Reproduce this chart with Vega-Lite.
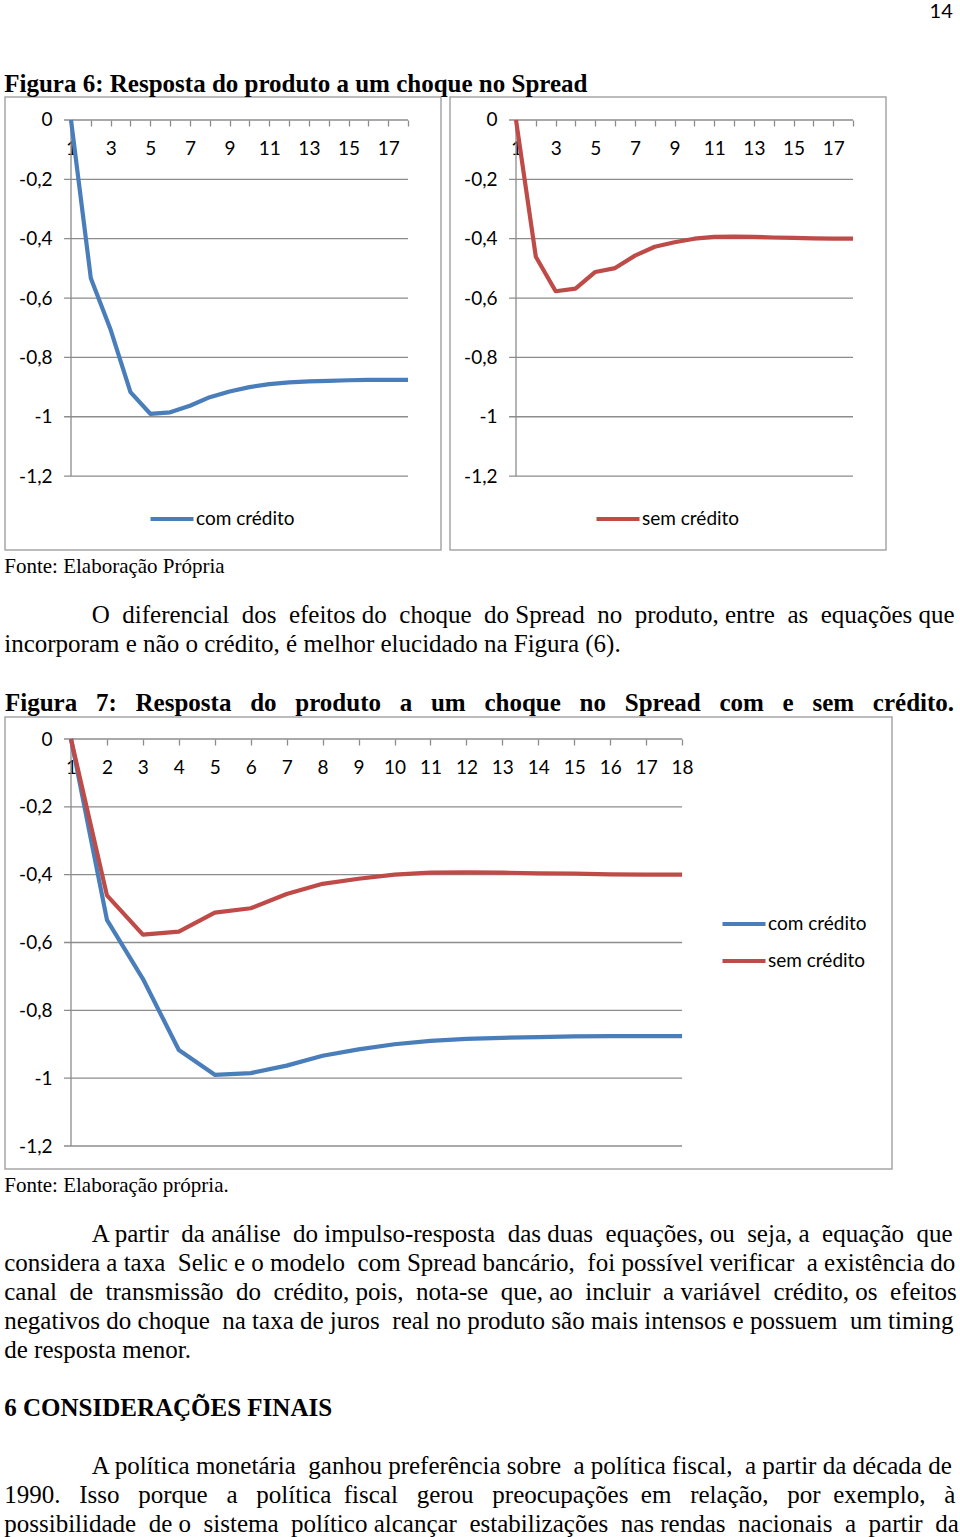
{
  "$schema": "https://vega.github.io/schema/vega-lite/v6.json",
  "padding": {"left": 4, "top": 2, "right": 3, "bottom": 0},
  "background": "white",
  "datasets": {
    "resp": [
      {"periodo": 1, "serie": "com crédito", "valor": 0},
      {"periodo": 2, "serie": "com crédito", "valor": -0.533},
      {"periodo": 3, "serie": "com crédito", "valor": -0.707},
      {"periodo": 4, "serie": "com crédito", "valor": -0.917},
      {"periodo": 5, "serie": "com crédito", "valor": -0.99},
      {"periodo": 6, "serie": "com crédito", "valor": -0.985},
      {"periodo": 7, "serie": "com crédito", "valor": -0.963},
      {"periodo": 8, "serie": "com crédito", "valor": -0.934},
      {"periodo": 9, "serie": "com crédito", "valor": -0.915},
      {"periodo": 10, "serie": "com crédito", "valor": -0.9},
      {"periodo": 11, "serie": "com crédito", "valor": -0.89},
      {"periodo": 12, "serie": "com crédito", "valor": -0.884},
      {"periodo": 13, "serie": "com crédito", "valor": -0.881},
      {"periodo": 14, "serie": "com crédito", "valor": -0.879},
      {"periodo": 15, "serie": "com crédito", "valor": -0.877},
      {"periodo": 16, "serie": "com crédito", "valor": -0.876},
      {"periodo": 17, "serie": "com crédito", "valor": -0.876},
      {"periodo": 18, "serie": "com crédito", "valor": -0.876},
      {"periodo": 1, "serie": "sem crédito", "valor": 0},
      {"periodo": 2, "serie": "sem crédito", "valor": -0.461},
      {"periodo": 3, "serie": "sem crédito", "valor": -0.577},
      {"periodo": 4, "serie": "sem crédito", "valor": -0.568},
      {"periodo": 5, "serie": "sem crédito", "valor": -0.512},
      {"periodo": 6, "serie": "sem crédito", "valor": -0.499},
      {"periodo": 7, "serie": "sem crédito", "valor": -0.457},
      {"periodo": 8, "serie": "sem crédito", "valor": -0.427},
      {"periodo": 9, "serie": "sem crédito", "valor": -0.412},
      {"periodo": 10, "serie": "sem crédito", "valor": -0.4},
      {"periodo": 11, "serie": "sem crédito", "valor": -0.394},
      {"periodo": 12, "serie": "sem crédito", "valor": -0.393},
      {"periodo": 13, "serie": "sem crédito", "valor": -0.394},
      {"periodo": 14, "serie": "sem crédito", "valor": -0.396},
      {"periodo": 15, "serie": "sem crédito", "valor": -0.397},
      {"periodo": 16, "serie": "sem crédito", "valor": -0.399},
      {"periodo": 17, "serie": "sem crédito", "valor": -0.4},
      {"periodo": 18, "serie": "sem crédito", "valor": -0.4}
    ],
    "grade": [{"v": 0}, {"v": -0.2}, {"v": -0.4}, {"v": -0.6}, {"v": -0.8}, {"v": -1}, {"v": -1.2}],
    "eixo": [{"x0": 1, "y0": 0, "y1": -1.2}]
  },
  "config": {
    "view": {"stroke": "#a6a6a6", "strokeWidth": 1.5},
    "title": {"color": "#000000", "anchor": "start"},
    "concat": {"spacing": 0}
  },
  "title": {"text": "14", "anchor": "end", "font": "Lato", "fontSize": 20, "fontWeight": "normal", "baseline": "top", "offset": 50, "dx": -6},
  "resolve": {"scale": {"color": "independent", "x": "independent", "y": "independent"}, "legend": {"color": "independent"}},
  "vconcat": [
    {
      "title": {
        "text": "6 CONSIDERAÇÕES FINAIS",
        "orient": "bottom",
        "anchor": "start",
        "font": "Liberation Serif",
        "fontSize": 25,
        "fontWeight": "bold",
        "offset": 33,
        "subtitle": [
          "\u200b\u00a0\u00a0\u00a0\u00a0\u00a0\u00a0\u00a0\u00a0\u00a0\u00a0\u00a0\u00a0\u00a0\u00a0A política monetária \u00a0ganhou preferência sobre \u00a0a política fiscal, \u00a0a partir da década de",
          "1990. \u00a0\u00a0Isso \u00a0\u00a0porque \u00a0\u00a0a \u00a0\u00a0política \u00a0fiscal \u00a0\u00a0gerou \u00a0\u00a0preocupações \u00a0em \u00a0\u00a0relação, \u00a0\u00a0por \u00a0exemplo, \u00a0\u00a0à",
          "possibilidade \u00a0de o \u00a0sistema \u00a0político alcançar \u00a0estabilizações \u00a0nas rendas \u00a0nacionais \u00a0a \u00a0partir \u00a0da"
        ],
        "subtitleFont": "Liberation Serif",
        "subtitleFontSize": 25,
        "subtitleColor": "#000000",
        "subtitleLineHeight": 29,
        "subtitlePadding": 33
      },
      "spacing": 33,
      "resolve": {"scale": {"color": "independent", "x": "independent", "y": "independent"}, "legend": {"color": "independent"}},
      "vconcat": [
        {
          "title": {
            "text": "Fonte: Elaboração Própria",
            "orient": "bottom",
            "anchor": "start",
            "font": "Liberation Serif",
            "fontSize": 21,
            "fontWeight": "normal",
            "offset": 5,
            "subtitle": [
              "\u200b\u00a0\u00a0\u00a0\u00a0\u00a0\u00a0\u00a0\u00a0\u00a0\u00a0\u00a0\u00a0\u00a0\u00a0O \u00a0diferencial \u00a0dos \u00a0efeitos do \u00a0choque \u00a0do Spread \u00a0no \u00a0produto, entre \u00a0as \u00a0equações que",
              "incorporam e não o crédito, é melhor elucidado na Figura (6)."
            ],
            "subtitleFont": "Liberation Serif",
            "subtitleFontSize": 25,
            "subtitleColor": "#000000",
            "subtitleLineHeight": 29,
            "subtitlePadding": 26
          },
          "resolve": {"scale": {"color": "independent", "x": "independent", "y": "independent"}, "legend": {"color": "independent"}},
          "vconcat": [
            {
              "title": {"text": "Figura 6: Resposta do produto a um choque no Spread", "font": "Liberation Serif", "fontSize": 25, "fontWeight": "bold", "offset": -1},
              "spacing": 7,
              "hconcat": [
                {
                  "width": 436,
                  "height": 453,
                  "layer": [
                    {
                      "data": {"name": "grade"},
                      "mark": {"type": "rule", "color": "#8c8c8c", "strokeWidth": 1.3},
                      "encoding": {
                        "y": {"field": "v", "type": "quantitative", "scale": {"domain": [-1.449, 0.0775], "nice": false, "zero": false},
                          "axis": {"orient": "left", "offset": -52, "values": [0, -0.2, -0.4, -0.6, -0.8, -1, -1.2], "domain": false, "ticks": false, "grid": false, "labelPadding": 5, "labelExpr": "datum.value == 0 ? '0' : replace('-' + format(-datum.value, '.1~f'), '.', ',')", "labelFont": "Lato", "labelFontSize": 19, "labelColor": "#000000", "labelFlush": false, "labelOverlap": false, "title": null}},
                        "x": {"datum": 0.65, "type": "quantitative", "scale": {"domain": [-2.33, 19.665], "nice": false, "zero": false},
                          "axis": {"orient": "bottom", "offset": -430, "values": [1,2,3,4,5,6,7,8,9,10,11,12,13,14,15,16,17,18], "domain": false, "grid": false, "tickColor": "#8c8c8c", "tickSize": 6, "tickWidth": 1.3, "labelExpr": "datum.value % 2 == 1 ? datum.label : ''", "labelFont": "Lato", "labelFontSize": 19, "labelColor": "#000000", "labelPadding": 13, "labelFlush": false, "labelOverlap": false, "title": null}},
                        "x2": {"datum": 18}
                      }
                    },
                    {
                      "data": {"name": "eixo"},
                      "mark": {"type": "rule", "color": "#8c8c8c", "strokeWidth": 1.3},
                      "encoding": {
                        "x": {"field": "x0", "type": "quantitative",
                          "axis": {"orient": "bottom", "offset": -430, "values": [1,2,3,4,5,6,7,8,9,10,11,12,13,14,15,16,17,18], "domain": false, "grid": false, "tickColor": "#8c8c8c", "tickSize": 6, "tickWidth": 1.3, "labelExpr": "datum.value % 2 == 1 ? datum.label : ''", "labelFont": "Lato", "labelFontSize": 19, "labelColor": "#000000", "labelPadding": 13, "labelFlush": false, "labelOverlap": false, "title": null}},
                        "y": {"field": "y0", "type": "quantitative",
                          "axis": {"orient": "left", "offset": -52, "values": [0, -0.2, -0.4, -0.6, -0.8, -1, -1.2], "domain": false, "ticks": false, "grid": false, "labelPadding": 5, "labelExpr": "datum.value == 0 ? '0' : replace('-' + format(-datum.value, '.1~f'), '.', ',')", "labelFont": "Lato", "labelFontSize": 19, "labelColor": "#000000", "labelFlush": false, "labelOverlap": false, "title": null}},
                        "y2": {"field": "y1"}
                      }
                    },
                    {
                      "data": {"name": "resp"},
                      "transform": [{"filter": "datum.serie == 'com crédito'"}],
                      "mark": {"type": "line", "strokeWidth": 4.2, "strokeJoin": "round"},
                      "encoding": {
                        "x": {"field": "periodo", "type": "quantitative", "scale": {"domain": [-2.33, 19.665], "nice": false, "zero": false},
                          "axis": {"orient": "bottom", "offset": -430, "values": [1,2,3,4,5,6,7,8,9,10,11,12,13,14,15,16,17,18], "domain": false, "grid": false, "tickColor": "#8c8c8c", "tickSize": 6, "tickWidth": 1.3, "labelExpr": "datum.value % 2 == 1 ? datum.label : ''", "labelFont": "Lato", "labelFontSize": 19, "labelColor": "#000000", "labelPadding": 13, "labelFlush": false, "labelOverlap": false, "title": null}},
                        "y": {"field": "valor", "type": "quantitative", "scale": {"domain": [-1.449, 0.0775], "nice": false, "zero": false},
                          "axis": {"orient": "left", "offset": -52, "values": [0, -0.2, -0.4, -0.6, -0.8, -1, -1.2], "domain": false, "ticks": false, "grid": false, "labelPadding": 5, "labelExpr": "datum.value == 0 ? '0' : replace('-' + format(-datum.value, '.1~f'), '.', ',')", "labelFont": "Lato", "labelFontSize": 19, "labelColor": "#000000", "labelFlush": false, "labelOverlap": false, "title": null}},
                        "color": {"field": "serie", "type": "nominal", "scale": {"domain": ["com crédito"], "range": ["#4a7ebb"]},
                          "legend": {"orient": "none", "legendX": 143, "legendY": 398, "title": null, "symbolType": "stroke", "symbolSize": 1849, "symbolStrokeWidth": 4.2, "labelFont": "Lato", "labelFontSize": 19, "labelColor": "#000000", "labelOffset": 0, "padding": 0}}
                      }
                    }
                  ]
                },
                {
                  "width": 436,
                  "height": 453,
                  "layer": [
                    {
                      "data": {"name": "grade"},
                      "mark": {"type": "rule", "color": "#8c8c8c", "strokeWidth": 1.3},
                      "encoding": {
                        "y": {"field": "v", "type": "quantitative", "scale": {"domain": [-1.449, 0.0775], "nice": false, "zero": false},
                          "axis": {"orient": "left", "offset": -52, "values": [0, -0.2, -0.4, -0.6, -0.8, -1, -1.2], "domain": false, "ticks": false, "grid": false, "labelPadding": 5, "labelExpr": "datum.value == 0 ? '0' : replace('-' + format(-datum.value, '.1~f'), '.', ',')", "labelFont": "Lato", "labelFontSize": 19, "labelColor": "#000000", "labelFlush": false, "labelOverlap": false, "title": null}},
                        "x": {"datum": 0.65, "type": "quantitative", "scale": {"domain": [-2.33, 19.665], "nice": false, "zero": false},
                          "axis": {"orient": "bottom", "offset": -430, "values": [1,2,3,4,5,6,7,8,9,10,11,12,13,14,15,16,17,18], "domain": false, "grid": false, "tickColor": "#8c8c8c", "tickSize": 6, "tickWidth": 1.3, "labelExpr": "datum.value % 2 == 1 ? datum.label : ''", "labelFont": "Lato", "labelFontSize": 19, "labelColor": "#000000", "labelPadding": 13, "labelFlush": false, "labelOverlap": false, "title": null}},
                        "x2": {"datum": 18}
                      }
                    },
                    {
                      "data": {"name": "eixo"},
                      "mark": {"type": "rule", "color": "#8c8c8c", "strokeWidth": 1.3},
                      "encoding": {
                        "x": {"field": "x0", "type": "quantitative",
                          "axis": {"orient": "bottom", "offset": -430, "values": [1,2,3,4,5,6,7,8,9,10,11,12,13,14,15,16,17,18], "domain": false, "grid": false, "tickColor": "#8c8c8c", "tickSize": 6, "tickWidth": 1.3, "labelExpr": "datum.value % 2 == 1 ? datum.label : ''", "labelFont": "Lato", "labelFontSize": 19, "labelColor": "#000000", "labelPadding": 13, "labelFlush": false, "labelOverlap": false, "title": null}},
                        "y": {"field": "y0", "type": "quantitative",
                          "axis": {"orient": "left", "offset": -52, "values": [0, -0.2, -0.4, -0.6, -0.8, -1, -1.2], "domain": false, "ticks": false, "grid": false, "labelPadding": 5, "labelExpr": "datum.value == 0 ? '0' : replace('-' + format(-datum.value, '.1~f'), '.', ',')", "labelFont": "Lato", "labelFontSize": 19, "labelColor": "#000000", "labelFlush": false, "labelOverlap": false, "title": null}},
                        "y2": {"field": "y1"}
                      }
                    },
                    {
                      "data": {"name": "resp"},
                      "transform": [{"filter": "datum.serie == 'sem crédito'"}],
                      "mark": {"type": "line", "strokeWidth": 4.2, "strokeJoin": "round"},
                      "encoding": {
                        "x": {"field": "periodo", "type": "quantitative", "scale": {"domain": [-2.33, 19.665], "nice": false, "zero": false},
                          "axis": {"orient": "bottom", "offset": -430, "values": [1,2,3,4,5,6,7,8,9,10,11,12,13,14,15,16,17,18], "domain": false, "grid": false, "tickColor": "#8c8c8c", "tickSize": 6, "tickWidth": 1.3, "labelExpr": "datum.value % 2 == 1 ? datum.label : ''", "labelFont": "Lato", "labelFontSize": 19, "labelColor": "#000000", "labelPadding": 13, "labelFlush": false, "labelOverlap": false, "title": null}},
                        "y": {"field": "valor", "type": "quantitative", "scale": {"domain": [-1.449, 0.0775], "nice": false, "zero": false},
                          "axis": {"orient": "left", "offset": -52, "values": [0, -0.2, -0.4, -0.6, -0.8, -1, -1.2], "domain": false, "ticks": false, "grid": false, "labelPadding": 5, "labelExpr": "datum.value == 0 ? '0' : replace('-' + format(-datum.value, '.1~f'), '.', ',')", "labelFont": "Lato", "labelFontSize": 19, "labelColor": "#000000", "labelFlush": false, "labelOverlap": false, "title": null}},
                        "color": {"field": "serie", "type": "nominal", "scale": {"domain": ["sem crédito"], "range": ["#be4b48"]},
                          "legend": {"orient": "none", "legendX": 144, "legendY": 398, "title": null, "symbolType": "stroke", "symbolSize": 1849, "symbolStrokeWidth": 4.2, "labelFont": "Lato", "labelFontSize": 19, "labelColor": "#000000", "labelOffset": 0, "padding": 0}}
                      }
                    }
                  ]
                }
              ],
              "resolve": {"scale": {"color": "independent", "x": "independent", "y": "independent"}, "legend": {"color": "independent"}}
            }
          ]
        },
        {
          "title": {
            "text": "Fonte: Elaboração própria.",
            "orient": "bottom",
            "anchor": "start",
            "font": "Liberation Serif",
            "fontSize": 21,
            "fontWeight": "normal",
            "offset": 5,
            "subtitle": [
              "\u200b\u00a0\u00a0\u00a0\u00a0\u00a0\u00a0\u00a0\u00a0\u00a0\u00a0\u00a0\u00a0\u00a0\u00a0A partir \u00a0da análise \u00a0do impulso-resposta \u00a0das duas \u00a0equações, ou \u00a0seja, a \u00a0equação \u00a0que",
              "considera a taxa \u00a0Selic e o modelo \u00a0com Spread bancário, \u00a0foi possível verificar \u00a0a existência do",
              "canal \u00a0de \u00a0transmissão \u00a0do \u00a0crédito, pois, \u00a0nota-se \u00a0que, ao \u00a0incluir \u00a0a variável \u00a0crédito, os \u00a0efeitos",
              "negativos do choque \u00a0na taxa de juros \u00a0real no produto são mais intensos e possuem \u00a0um timing",
              "de resposta menor."
            ],
            "subtitleFont": "Liberation Serif",
            "subtitleFontSize": 25,
            "subtitleColor": "#000000",
            "subtitleLineHeight": 29,
            "subtitlePadding": 26
          },
          "resolve": {"scale": {"color": "independent", "x": "independent", "y": "independent"}, "legend": {"color": "independent"}},
          "vconcat": [
            {
              "title": {"text": "Figura \u00a0\u00a07: \u00a0\u00a0Resposta \u00a0\u00a0do \u00a0\u00a0produto \u00a0\u00a0a \u00a0\u00a0um \u00a0\u00a0choque \u00a0\u00a0no \u00a0\u00a0Spread \u00a0\u00a0com \u00a0\u00a0e \u00a0\u00a0sem \u00a0\u00a0crédito.", "font": "Liberation Serif", "fontSize": 25, "fontWeight": "bold", "offset": 1},
              "width": 887,
              "height": 452,
              "layer": [
                {
                  "data": {"name": "grade"},
                  "mark": {"type": "rule", "color": "#8c8c8c", "strokeWidth": 1.3},
                  "encoding": {
                    "y": {"field": "v", "type": "quantitative", "scale": {"domain": [-1.2678, 0.0649], "nice": false, "zero": false},
                      "axis": {"orient": "left", "offset": -52, "values": [0, -0.2, -0.4, -0.6, -0.8, -1, -1.2], "domain": false, "ticks": false, "grid": false, "labelPadding": 5, "labelExpr": "datum.value == 0 ? '0' : replace('-' + format(-datum.value, '.1~f'), '.', ',')", "labelFont": "Lato", "labelFontSize": 19, "labelColor": "#000000", "labelFlush": false, "labelOverlap": false, "title": null}},
                    "x": {"datum": 0.805, "type": "quantitative", "scale": {"domain": [-0.836, 23.84], "nice": false, "zero": false},
                      "axis": {"orient": "bottom", "offset": -430, "values": [1,2,3,4,5,6,7,8,9,10,11,12,13,14,15,16,17,18], "domain": false, "grid": false, "tickColor": "#8c8c8c", "tickSize": 6, "tickWidth": 1.3, "labelFont": "Lato", "labelFontSize": 19, "labelColor": "#000000", "labelPadding": 13, "labelFlush": false, "labelOverlap": false, "title": null}},
                    "x2": {"datum": 18}
                  }
                },
                {
                  "data": {"name": "eixo"},
                  "mark": {"type": "rule", "color": "#8c8c8c", "strokeWidth": 1.3},
                  "encoding": {
                    "x": {"field": "x0", "type": "quantitative",
                      "axis": {"orient": "bottom", "offset": -430, "values": [1,2,3,4,5,6,7,8,9,10,11,12,13,14,15,16,17,18], "domain": false, "grid": false, "tickColor": "#8c8c8c", "tickSize": 6, "tickWidth": 1.3, "labelFont": "Lato", "labelFontSize": 19, "labelColor": "#000000", "labelPadding": 13, "labelFlush": false, "labelOverlap": false, "title": null}},
                    "y": {"field": "y0", "type": "quantitative",
                      "axis": {"orient": "left", "offset": -52, "values": [0, -0.2, -0.4, -0.6, -0.8, -1, -1.2], "domain": false, "ticks": false, "grid": false, "labelPadding": 5, "labelExpr": "datum.value == 0 ? '0' : replace('-' + format(-datum.value, '.1~f'), '.', ',')", "labelFont": "Lato", "labelFontSize": 19, "labelColor": "#000000", "labelFlush": false, "labelOverlap": false, "title": null}},
                    "y2": {"field": "y1"}
                  }
                },
                {
                  "data": {"name": "resp"},
                  "mark": {"type": "line", "strokeWidth": 4.2, "strokeJoin": "round"},
                  "encoding": {
                    "x": {"field": "periodo", "type": "quantitative", "scale": {"domain": [-0.836, 23.84], "nice": false, "zero": false},
                      "axis": {"orient": "bottom", "offset": -430, "values": [1,2,3,4,5,6,7,8,9,10,11,12,13,14,15,16,17,18], "domain": false, "grid": false, "tickColor": "#8c8c8c", "tickSize": 6, "tickWidth": 1.3, "labelFont": "Lato", "labelFontSize": 19, "labelColor": "#000000", "labelPadding": 13, "labelFlush": false, "labelOverlap": false, "title": null}},
                    "y": {"field": "valor", "type": "quantitative", "scale": {"domain": [-1.2678, 0.0649], "nice": false, "zero": false},
                      "axis": {"orient": "left", "offset": -52, "values": [0, -0.2, -0.4, -0.6, -0.8, -1, -1.2], "domain": false, "ticks": false, "grid": false, "labelPadding": 5, "labelExpr": "datum.value == 0 ? '0' : replace('-' + format(-datum.value, '.1~f'), '.', ',')", "labelFont": "Lato", "labelFontSize": 19, "labelColor": "#000000", "labelFlush": false, "labelOverlap": false, "title": null}},
                    "color": {"field": "serie", "type": "nominal", "scale": {"domain": ["com crédito", "sem crédito"], "range": ["#4a7ebb", "#be4b48"]},
                      "legend": {"orient": "none", "legendX": 715, "legendY": 183, "title": null, "symbolType": "stroke", "symbolSize": 1849, "symbolStrokeWidth": 4.2, "labelFont": "Lato", "labelFontSize": 19, "labelColor": "#000000", "labelOffset": 0, "padding": 0, "rowPadding": 3}}
                  }
                }
              ]
            }
          ]
        }
      ]
    }
  ]
}
